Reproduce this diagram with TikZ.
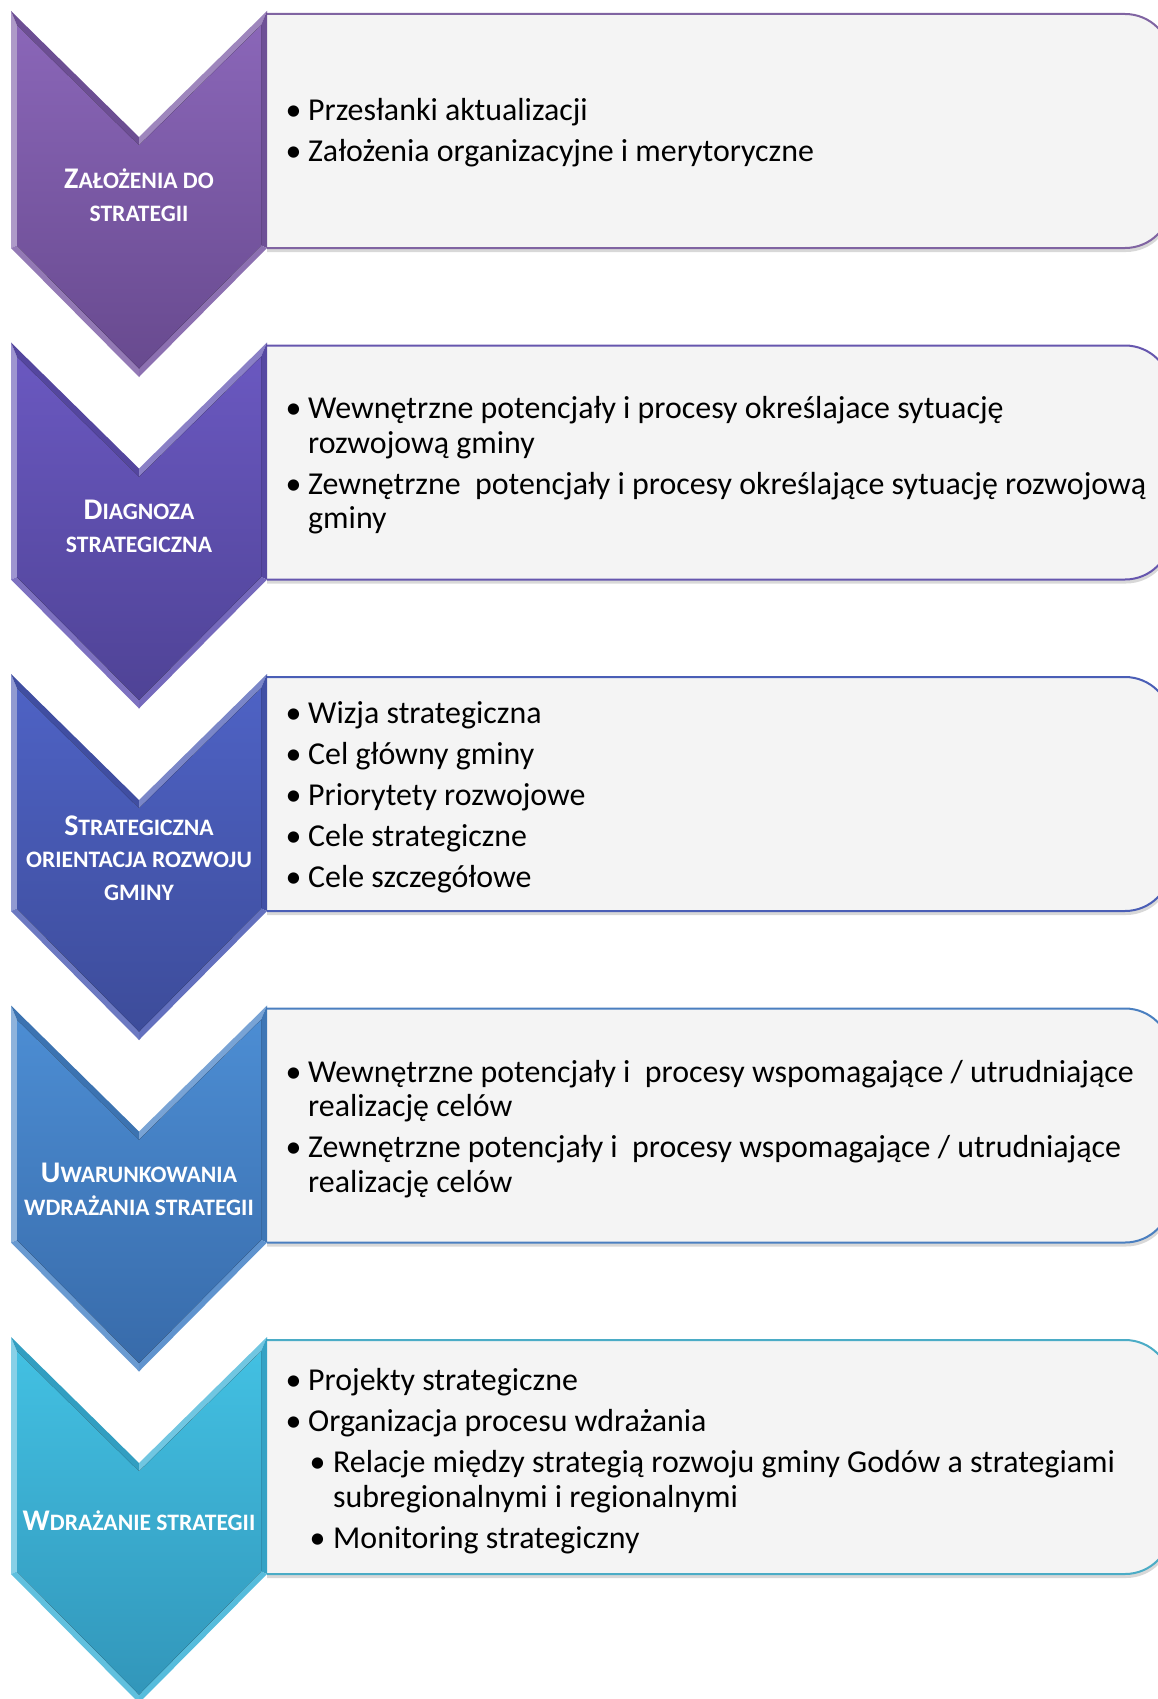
\documentclass[tikz,border=0pt]{standalone}
\usepackage{fontspec}
\setmainfont{Carlito}
\usetikzlibrary{shadows}

\definecolor{top1}{HTML}{8A66B8}\definecolor{bot1}{HTML}{684A8F}\definecolor{mid1}{HTML}{7857A3}\definecolor{brd1}{HTML}{8064A2}
\definecolor{top2}{HTML}{6A58C0}\definecolor{bot2}{HTML}{4F4396}\definecolor{mid2}{HTML}{5D4EB0}\definecolor{brd2}{HTML}{6656AE}
\definecolor{top3}{HTML}{4E62C4}\definecolor{bot3}{HTML}{3D4C9A}\definecolor{mid3}{HTML}{4757B3}\definecolor{brd3}{HTML}{4A5EB6}
\definecolor{top4}{HTML}{4C8DD3}\definecolor{bot4}{HTML}{386BAA}\definecolor{mid4}{HTML}{4380C5}\definecolor{brd4}{HTML}{4A7FC0}
\definecolor{top5}{HTML}{42C0E2}\definecolor{bot5}{HTML}{3296BA}\definecolor{mid5}{HTML}{38B0D6}\definecolor{brd5}{HTML}{4BACC6}
\definecolor{boxfill}{HTML}{F4F4F4}

\newcommand\bigc[1]{{\fontsize{30}{32.5}\selectfont #1}}
\newcommand\itm[1]{\hangindent=20pt\hangafter=1\noindent\makebox[20pt][l]{\hspace{-2.5pt}\textbullet}#1\par}
\newcommand\subitm[1]{\hangindent=45pt\hangafter=1\noindent\hspace*{24pt}\makebox[21pt][l]{\hspace{-2.5pt}\textbullet}#1\par}
\newenvironment{itemlist}{\begin{minipage}[t]{880pt}\fontsize{31.9}{34.7}\selectfont\setlength\parskip{6.3pt}\setlength\parindent{0pt}}{\end{minipage}}

% chevron: #1 y0, #2 index, #3 prefix
\newcommand\chevshape[3]{%
\begin{scope}[shift={(0,#1)}]
 \coordinate (#3A) at (11,0);   \coordinate (#3B) at (139,126); \coordinate (#3C) at (267,0);
 \coordinate (#3D) at (267,237); \coordinate (#3E) at (139,366); \coordinate (#3F) at (11,237);
 \coordinate (#3a) at (17,14.3); \coordinate (#3b) at (139,134.4); \coordinate (#3c) at (261,14.3);
 \coordinate (#3d) at (261,234.5); \coordinate (#3e) at (139,357.5); \coordinate (#3f) at (17,234.5);
 \fill[mid#2!60!white] (#3A)--(#3F)--(#3f)--(#3a)--cycle;
 \fill[mid#2!90!black] (#3A)--(#3B)--(#3b)--(#3a)--cycle;
 \fill[mid#2!72!white] (#3B)--(#3C)--(#3c)--(#3b)--cycle;
 \fill[mid#2!92!black] (#3C)--(#3D)--(#3d)--(#3c)--cycle;
 \fill[mid#2!85!white] (#3D)--(#3E)--(#3e)--(#3d)--cycle;
 \fill[mid#2!80!white] (#3E)--(#3F)--(#3f)--(#3e)--cycle;
 \fill[top color=top#2, bottom color=bot#2] (#3a)--(#3b)--(#3c)--(#3d)--(#3e)--(#3f)--cycle;
\end{scope}}

% box: #1 y0, #2 index
\newcommand\infobox[2]{%
\begin{scope}
 \clip (267,{#1-10}) rectangle (1200,{#1+300});
 \filldraw[fill=boxfill, draw=brd#2, line width=2pt, rounded corners=46pt,
   drop shadow={opacity=0.3, shadow xshift=1pt, shadow yshift=-4pt}]
   (200,{#1+3}) rectangle (1171,{#1+237});
\end{scope}}

\tikzset{
  lbl/.style={text=white, align=center, inner sep=0pt, font=\bfseries\fontsize{23.6}{32.5}\selectfont},
  txt/.style={anchor=base west, inner sep=0pt, text=black}
}

\begin{document}
\begin{tikzpicture}[x=1pt,y=-1pt]
\useasboundingbox (0,0) rectangle (1157,1699);
\fill[white] (0,0) rectangle (1157,1699);

\infobox{11}{1}\chevshape{11}{1}{k1}
\infobox{342.5}{2}\chevshape{342.5}{2}{k2}
\infobox{674}{3}\chevshape{674}{3}{k3}
\infobox{1005.5}{4}\chevshape{1005.5}{4}{k4}
\infobox{1337}{5}\chevshape{1337}{5}{k5}

\node[lbl] (l1) at (139,195) {\bigc{Z}AŁOŻENIA DO\\STRATEGII};
\node[lbl] (l2) at (139,526.5) {\bigc{D}IAGNOZA\\STRATEGICZNA};
\node[lbl] (l3) at (139,858) {\bigc{S}TRATEGICZNA\\ORIENTACJA ROZWOJU\\GMINY};
\node[lbl] (l4) at (139,1189.5) {\bigc{U}WARUNKOWANIA\\WDRAŻANIA STRATEGII};
\node[lbl] (l5) at (139,1521) {\bigc{W}DRAŻANIE STRATEGII};

\node[txt] (t1) at (288,120.5) {\begin{itemlist}
\itm{Przesłanki aktualizacji}
\itm{Założenia organizacyjne i merytoryczne}
\end{itemlist}};

\node[txt] (t2) at (288,418.5) {\begin{itemlist}
\itm{Wewnętrzne potencjały i procesy określajace sytuację\newline rozwojową gminy}
\itm{Zewnętrzne\ \ potencjały i procesy określające sytuację rozwojową\newline gminy}
\end{itemlist}};

\node[txt] (t3) at (288,723) {\begin{itemlist}
\itm{Wizja strategiczna}
\itm{Cel główny gminy}
\itm{Priorytety rozwojowe}
\itm{Cele strategiczne}
\itm{Cele szczegółowe}
\end{itemlist}};

\node[txt] (t4) at (288,1082) {\begin{itemlist}
\itm{Wewnętrzne potencjały i\ \ procesy wspomagające / utrudniające\newline realizację celów}
\itm{Zewnętrzne potencjały i\ \ procesy wspomagające / utrudniające\newline realizację celów}
\end{itemlist}};

\node[txt] (t5) at (288,1390.5) {\begin{itemlist}
\itm{Projekty strategiczne}
\itm{Organizacja procesu wdrażania}
\subitm{Relacje między strategią rozwoju gminy Godów a strategiami\newline subregionalnymi i regionalnymi}
\subitm{Monitoring strategiczny}
\end{itemlist}};
\end{tikzpicture}
\end{document}
